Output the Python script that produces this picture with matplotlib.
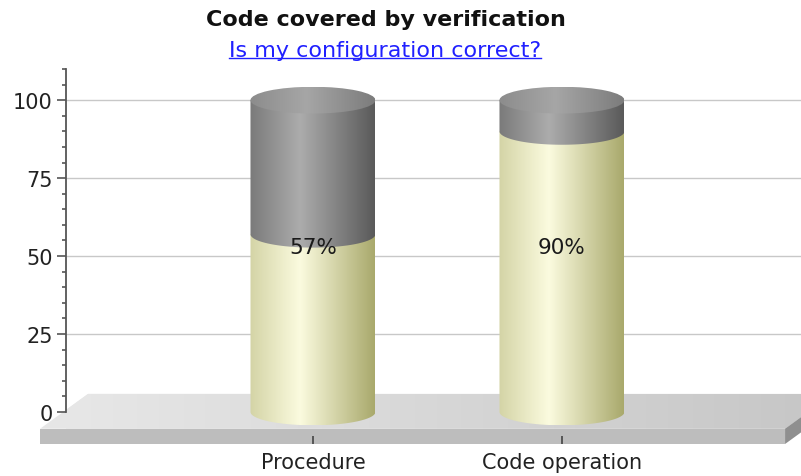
import numpy as np
import matplotlib.pyplot as plt
from matplotlib.path import Path
from matplotlib.patches import PathPatch, Ellipse, Polygon
from matplotlib.lines import Line2D
from matplotlib.colors import LinearSegmentedColormap

categories = ["Procedure", "Code operation"]
covered = [57, 90]
total = [100, 100]
bar_labels = ["57%", "90%"]
y_ticks = [0, 25, 50, 75, 100]

W, H, DPI = 801, 477, 100
plt.rcParams['font.family'] = 'DejaVu Sans'

fig = plt.figure(figsize=(W / DPI, H / DPI), dpi=DPI)
ax = fig.add_axes([66 / W, 32 / H, 735 / W, 375 / H])

yellow = LinearSegmentedColormap.from_list(
    "yel", [(0, "#d4d4a6"), (0.4, "#fbfbdf"), (1, "#a9a96c")])
grey = LinearSegmentedColormap.from_list(
    "gry", [(0, "#7a7a7a"), (0.4, "#acacac"), (1, "#5a5a5a")])
grey_top = LinearSegmentedColormap.from_list(
    "gtop", [(0, "#8c8c8c"), (0.45, "#a6a6a6"), (1, "#7c7c7c")])

half_w = 0.251     # cylinder radius in x units
ell_h = 4.3        # ellipse half height in y units
grad = np.linspace(0, 1, 256).reshape(1, -1)


def body_path(cx, y0, y1):
    t = np.linspace(np.pi, 2 * np.pi, 80)
    xs = cx + half_w * np.cos(t)
    ys = y0 + ell_h * np.sin(t)
    verts = list(zip(xs, ys)) + [(cx + half_w, y1), (cx - half_w, y1), (xs[0], ys[0])]
    codes = [Path.MOVETO] + [Path.LINETO] * (len(verts) - 2) + [Path.CLOSEPOLY]
    return Path(verts, codes)


def shaded(patch, cmap, x0, x1, y0, y1, z):
    patch.set_facecolor("none")
    patch.set_edgecolor("none")
    ax.add_patch(patch)
    im = ax.imshow(grad, cmap=cmap, extent=(x0, x1, y0, y1),
                   aspect="auto", interpolation="bilinear", zorder=z)
    im.set_clip_path(patch)
    return im


# floor slab
fx0, fx1 = -1.096, 1.896
f_front, f_bot = -5.4, -10.3
ddx, ddy = 0.193, 11.2
top_pts = [(fx0, f_front), (fx1, f_front), (fx1 + ddx, f_front + ddy),
           (fx0 + ddx, f_front + ddy)]
ax.add_patch(Polygon(top_pts, closed=True, clip_on=False, zorder=0.9,
                     facecolor="#e6e6e6", edgecolor="none"))
fl = LinearSegmentedColormap.from_list("fl", ["#e8e8e8", "#c6c6c6"])
shaded(Polygon(top_pts, closed=True), fl, fx0, fx1 + ddx, f_front, f_front + ddy, 1)
ax.add_patch(Polygon([(fx0, f_bot), (fx1, f_bot), (fx1, f_front), (fx0, f_front)],
                     closed=True, clip_on=False, zorder=1, facecolor="#bdbdbd",
                     edgecolor="none"))
ax.add_patch(Polygon([(fx1, f_bot), (fx1 + ddx, f_bot + ddy), (fx1 + ddx, f_front + ddy),
                      (fx1, f_front)], closed=True, clip_on=False, zorder=1,
                     facecolor="#8f8f8f", edgecolor="none"))

# cylinders
for i, (c, t) in enumerate(zip(covered, total)):
    shaded(PathPatch(body_path(i, 0, c)), yellow, i - half_w, i + half_w, -ell_h, c, 3)
    shaded(PathPatch(body_path(i, c, t)), grey, i - half_w, i + half_w, c - ell_h, t, 4)
    lid = Ellipse((i, t), 2 * half_w, 2 * ell_h)
    shaded(lid, grey_top, i - half_w, i + half_w, t - ell_h, t + ell_h, 5)
    ax.text(i, 53, bar_labels[i], ha="center", va="center", fontsize=15.5,
            color="#1a1a1a", zorder=10)

ax.set_xlim(-0.992, 1.96)
ax.set_ylim(-10.3, 110)

for s in ["top", "right", "bottom"]:
    ax.spines[s].set_visible(False)
ax.spines["left"].set_bounds(0, 110)
ax.spines["left"].set_color("#555555")
ax.spines["left"].set_linewidth(1.3)

ax.set_yticks(y_ticks)
ax.set_yticks(np.arange(0, 111, 5), minor=True)
ax.tick_params(axis="y", which="major", length=6.5, width=1.2, color="#555555",
               labelsize=15, labelcolor="#222222", pad=3)
ax.tick_params(axis="y", which="minor", length=3, width=1.2, color="#555555")
ax.set_xticks(range(len(categories)))
ax.set_xticklabels(categories)
ax.tick_params(axis="x", direction="in", length=6, width=1.2, color="#444444",
               labelsize=15, labelcolor="#222222", pad=6)

ax.yaxis.grid(True, color="#c8c8c8", linewidth=1)
ax.get_ygridlines()[0].set_visible(False)

fig.text(386 / W, 1 - 20 / H, "Code covered by verification", ha="center",
         va="center", fontsize=16, fontweight="bold", color="#111111")
sub = fig.text(385 / W, 1 - 51 / H, "Is my configuration correct?", ha="center",
               va="center", fontsize=16, color="#2020ff")

fig.canvas.draw()
bb = sub.get_window_extent(fig.canvas.get_renderer())
(ux0, uy), (ux1, _) = fig.transFigure.inverted().transform(
    [(bb.x0, bb.y0 + 2), (bb.x1, bb.y0 + 2)])
fig.add_artist(Line2D([ux0, ux1], [uy, uy], transform=fig.transFigure,
                      color="#2020ff", linewidth=1))

fig.savefig("out.png", dpi=DPI)
